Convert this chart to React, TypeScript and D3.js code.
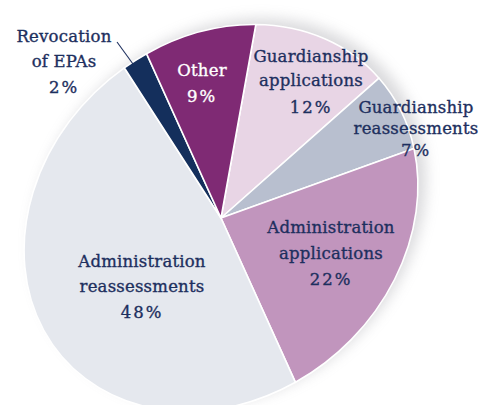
import React from 'react';
import * as d3 from 'd3';

// slice order clockwise, starting with Guardianship applications
const categories = [
  'Guardianship applications',
  'Guardianship reassessments',
  'Administration applications',
  'Administration reassessments',
  'Revocation of EPAs',
  'Other',
];
const shares = [12, 7, 22, 48, 2, 9];
const sliceColors = ['#e8d5e5', '#b8bfcf', '#c195bd', '#e5e8ee', '#142f5c', '#7f2a74'];

// label text lines (last line is the percentage)
const labelLines = [
  ['Guardianship', 'applications'],
  ['Guardianship', 'reassessments'],
  ['Administration', 'applications'],
  ['Administration', 'reassessments'],
  ['Revocation', 'of EPAs'],
  ['Other'],
];

// label layout: centre x and the baseline of each line
const labelLayout = [
  { x: 311, ys: [62, 86, 113] },
  { x: 416, ys: [113, 134, 156] },
  { x: 331, ys: [233, 259, 285] },
  { x: 142, ys: [267, 292, 318] },
  { x: 64, ys: [42, 67, 93] },
  { x: 202, ys: [76, 102] },
];

const W = 491;
const H = 405;
const R = 100;
// pie is drawn as a circle and squashed into a tilted ellipse
const cx = 221;
const cy = 218;
const tilt = -42;
const sx = 2.11;
const sy = 1.78;
const startDeg = 47.4;

const textColor = '#1d2f5e';
const font = '"DejaVu Serif", serif';

export default function App() {
  const pie = d3.pie<number>()
    .sort(null)
    .value(d => d)
    .startAngle((startDeg * Math.PI) / 180)
    .endAngle((startDeg * Math.PI) / 180 + 2 * Math.PI);

  const arc = d3.arc<d3.PieArcDatum<number>>()
    .innerRadius(0)
    .outerRadius(R);

  const arcs = pie(shares);
  const ellipseTransform = `translate(${cx},${cy}) rotate(${tilt}) scale(${sx},${sy})`;

  return (
    <svg width={W} height={H} style={{ position: 'absolute', left: 0, top: 0, display: 'block' }}>
      <defs>
        <filter id="halo" x="-20%" y="-20%" width="140%" height="140%">
          <feGaussianBlur stdDeviation="7" />
        </filter>
      </defs>
      <rect width={W} height={H} fill="#ffffff" />

      <g filter="url(#halo)" opacity={0.36} transform="translate(8,-6)">
        <g transform={ellipseTransform}>
          <circle r={R} fill="#9a9aa0" />
        </g>
      </g>

      <g transform={ellipseTransform}>
        {arcs.map((a, i) => (
          <path
            key={categories[i]}
            d={arc(a) || ''}
            fill={sliceColors[i]}
            stroke="#ffffff"
            strokeWidth={1.6}
            vectorEffect="non-scaling-stroke"
            strokeLinejoin="round"
          />
        ))}
      </g>

      {/* leader for the small slice */}
      <line x1={117} y1={42} x2={133} y2={64} stroke={textColor} strokeWidth={1.1} />

      {labelLayout.map((l, i) => {
        const lines = [...labelLines[i], `${shares[i]}%`];
        const fill = categories[i] === 'Other' ? '#ffffff' : textColor;
        return (
          <g
            key={categories[i]}
            fill={fill}
            stroke={fill}
            strokeWidth={0.35}
            fontFamily={font}
            fontSize={16.5}
            textAnchor="middle"
          >
            {lines.map((t, j) => (
              <text
                key={j}
                x={l.x}
                y={l.ys[j]}
                letterSpacing={j === lines.length - 1 ? 2 : 0.2}
              >
                {t}
              </text>
            ))}
          </g>
        );
      })}
    </svg>
  );
}
